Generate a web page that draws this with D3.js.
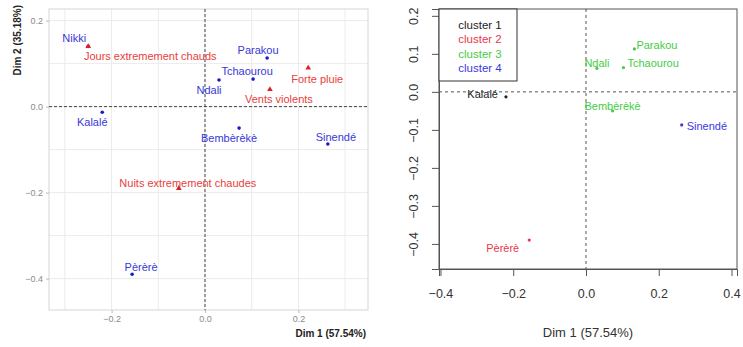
<!DOCTYPE html>
<html>
<head>
<meta charset="utf-8">
<script src="https://cdn.jsdelivr.net/npm/d3@7"></script>
<style>
  body { margin: 0; background: #fff; }
  svg { font-family: "Liberation Sans", Arial, sans-serif; }
</style>
</head>
<body>
<div id="chart"></div>
<script>
// rows (communes) on the first two CA dimensions
const rowNames = ["Nikki", "Kalalé", "Parakou", "Tchaourou", "Ndali", "Bembèrèkè", "Sinendé", "Pèrèrè"];
const rowDim1 = [-0.25, -0.22, 0.133, 0.103, 0.030, 0.073, 0.263, -0.156];
const rowDim2 = [0.14, -0.013, 0.113, 0.064, 0.062, -0.050, -0.087, -0.390];
const rowCluster = [1, 1, 3, 3, 3, 3, 4, 2];

// columns (climate events)
const colNames = ["Jours extremement chauds", "Forte pluie", "Vents violents", "Nuits extremement chaudes"];
const colDim1 = [-0.25, 0.221, 0.139, -0.056];
const colDim2 = [0.14, 0.090, 0.040, -0.19];

const clusterNames = ["cluster 1", "cluster 2", "cluster 3", "cluster 4"];
const leftXTicks = [-0.2, 0.0, 0.2];
const leftYTicks = [-0.4, -0.2, 0.0, 0.2];
const rightXTicks = [-0.4, -0.2, 0.0, 0.2, 0.4];
const rightYTicks = [-0.4, -0.3, -0.2, -0.1, 0.0, 0.1, 0.2];
const dim1Title = "Dim 1 (57.54%)";
const dim2Title = "Dim 2 (35.18%)";

const W = 743, H = 347;
const fmt = d3.format(".1f");
const clusterColor = ["#222222", "#e8384a", "#45cc45", "#3a3ae0"];

const svg = d3.select("#chart").append("svg")
    .attr("width", W).attr("height", H);

// ---------- left panel: CA biplot ----------
const xL = d3.scaleLinear().domain([-0.334, 0.349]).range([49, 368]);
const yL = d3.scaleLinear().domain([-0.473, 0.227]).range([310, 9]);
const left = svg.append("g");

// grid every 0.1
left.selectAll(".gx").data(d3.range(-3, 4).map(i => i / 10)).join("line")
    .attr("x1", d => xL(d)).attr("x2", d => xL(d))
    .attr("y1", yL.range()[1]).attr("y2", yL.range()[0])
    .attr("stroke", "#ebebeb");
left.selectAll(".gy").data(d3.range(-4, 3).map(i => i / 10)).join("line")
    .attr("y1", d => yL(d)).attr("y2", d => yL(d))
    .attr("x1", xL.range()[0]).attr("x2", xL.range()[1])
    .attr("stroke", "#ebebeb");

left.append("rect")
    .attr("x", 49).attr("y", 9).attr("width", 319).attr("height", 301)
    .attr("fill", "none").attr("stroke", "#d6d6d6");

left.append("g").attr("transform", "translate(0,310)")
    .call(d3.axisBottom(xL).tickValues(leftXTicks).tickFormat(fmt).tickSize(3).tickPadding(3))
    .call(g => g.select(".domain").remove())
    .call(g => g.selectAll("line").attr("stroke", "#bbb"))
    .call(g => g.selectAll("text").attr("fill", "#8a8a8a").style("font-size", "9px"));
left.append("g").attr("transform", "translate(49,0)")
    .call(d3.axisLeft(yL).tickValues(leftYTicks).tickFormat(fmt).tickSize(3).tickPadding(3))
    .call(g => g.select(".domain").remove())
    .call(g => g.selectAll("line").attr("stroke", "#bbb"))
    .call(g => g.selectAll("text").attr("fill", "#8a8a8a").style("font-size", "9px"));

left.append("line")
    .attr("x1", xL(0)).attr("x2", xL(0)).attr("y1", 9).attr("y2", 310)
    .attr("stroke", "#444").attr("stroke-dasharray", "3,2");
left.append("line")
    .attr("y1", yL(0)).attr("y2", yL(0)).attr("x1", 49).attr("x2", 368)
    .attr("stroke", "#444").attr("stroke-dasharray", "3,2");

// label offsets (dx, dy) from each marker
const leftRowLabel = {
    "Nikki": [-14, -8], "Kalalé": [-10, 10], "Parakou": [-9, -8], "Tchaourou": [-6, -8],
    "Ndali": [-10, 10], "Bembèrèkè": [-10, 10], "Sinendé": [8, -7], "Pèrèrè": [9, -7]
};
const leftColLabel = {
    "Jours extremement chauds": [62, 10], "Forte pluie": [9, 11],
    "Vents violents": [9, 10], "Nuits extremement chaudes": [9, -5]
};

const rows = rowNames.map((n, i) => ({name: n, x: rowDim1[i], y: rowDim2[i], c: rowCluster[i]}));
const cols = colNames.map((n, i) => ({name: n, x: colDim1[i], y: colDim2[i]}));

left.selectAll(".rowpt").data(rows).join("circle")
    .attr("cx", d => xL(d.x)).attr("cy", d => yL(d.y)).attr("r", 1.8)
    .attr("fill", "#1a1acc");
left.selectAll(".colpt").data(cols).join("path")
    .attr("transform", d => `translate(${xL(d.x)},${yL(d.y)})`)
    .attr("d", d3.symbol(d3.symbolTriangle).size(14))
    .attr("fill", "#e02020");
left.selectAll(".rowlab").data(rows).join("text")
    .attr("x", d => xL(d.x) + leftRowLabel[d.name][0])
    .attr("y", d => yL(d.y) + leftRowLabel[d.name][1])
    .attr("text-anchor", "middle").attr("dominant-baseline", "central")
    .attr("fill", "#3838d8").style("font-size", "11px")
    .text(d => d.name);
left.selectAll(".collab").data(cols).join("text")
    .attr("x", d => xL(d.x) + leftColLabel[d.name][0])
    .attr("y", d => yL(d.y) + leftColLabel[d.name][1])
    .attr("text-anchor", "middle").attr("dominant-baseline", "central")
    .attr("fill", "#e8403c").style("font-size", "11px")
    .text(d => d.name);

left.append("text")
    .attr("x", 366).attr("y", 337).attr("text-anchor", "end")
    .style("font-size", "10px").style("font-weight", "bold").attr("fill", "#222")
    .text(dim1Title);
left.append("text")
    .attr("transform", "translate(21,5) rotate(-90)").attr("text-anchor", "end")
    .style("font-size", "10px").style("font-weight", "bold").attr("fill", "#222")
    .text(dim2Title);

// ---------- right panel: clusters ----------
const xR = d3.scaleLinear().domain([-0.404, 0.415]).range([439, 737]);
const yR = d3.scaleLinear().domain([-0.466, 0.218]).range([269, 9]);
const right = svg.append("g");

right.append("g").attr("transform", "translate(0,269)")
    .call(d3.axisBottom(xR).tickValues(rightXTicks).tickFormat(fmt).tickSize(7).tickPadding(13))
    .call(g => g.select(".domain").attr("stroke", "#555"))
    .call(g => g.selectAll("line").attr("stroke", "#555"))
    .call(g => g.selectAll("text").attr("fill", "#333").style("font-size", "12.5px"));
right.append("g").attr("transform", "translate(439,0)")
    .call(d3.axisLeft(yR).tickValues(rightYTicks).tickFormat(fmt).tickSize(7))
    .call(g => g.select(".domain").attr("stroke", "#555"))
    .call(g => g.selectAll("line").attr("stroke", "#555"))
    .call(g => g.selectAll("text")
        .attr("x", 0).attr("y", -21).attr("dy", null)
        .attr("transform", "rotate(-90)").attr("text-anchor", "middle")
        .attr("fill", "#333").style("font-size", "12.5px"));

right.append("rect")
    .attr("x", 439).attr("y", 9).attr("width", 298).attr("height", 260)
    .attr("fill", "none").attr("stroke", "#555");

right.append("line")
    .attr("x1", xR(0)).attr("x2", xR(0)).attr("y1", 9).attr("y2", 269)
    .attr("stroke", "#555").attr("stroke-dasharray", "3,3");
right.append("line")
    .attr("y1", yR(0)).attr("y2", yR(0)).attr("x1", 439).attr("x2", 737)
    .attr("stroke", "#555").attr("stroke-dasharray", "3,3");

// legend box area; points falling inside it are hidden by it
const legBox = {x: 439, y: 9, w: 78, h: 72};
const underLegend = d => xR(d.x) < legBox.x + legBox.w && yR(d.y) < legBox.y + legBox.h;

// [anchor, dx, dy]
const rightLabel = {
    "Kalalé": ["end", -8, -3], "Pèrèrè": ["end", -10, 8],
    "Parakou": ["start", 2, -4], "Tchaourou": ["start", 4, -5], "Ndali": ["middle", 0, -5],
    "Bembèrèkè": ["middle", 0, -5], "Sinendé": ["start", 5, 1]
};
const shown = rows.filter(d => !underLegend(d));

right.selectAll(".pt").data(shown).join("circle")
    .attr("cx", d => xR(d.x)).attr("cy", d => yR(d.y)).attr("r", 1.6)
    .attr("fill", d => clusterColor[d.c - 1]);
right.selectAll(".lab").data(shown).join("text")
    .attr("x", d => xR(d.x) + rightLabel[d.name][1])
    .attr("y", d => yR(d.y) + rightLabel[d.name][2])
    .attr("text-anchor", d => rightLabel[d.name][0]).attr("dominant-baseline", "central")
    .attr("fill", d => clusterColor[d.c - 1]).style("font-size", "11px")
    .text(d => d.name);

const leg = right.append("g");
leg.append("rect")
    .attr("x", legBox.x).attr("y", legBox.y).attr("width", legBox.w).attr("height", legBox.h)
    .attr("fill", "#fff").attr("stroke", "#333");
leg.selectAll("text").data(clusterNames).join("text")
    .attr("x", 480).attr("y", (d, i) => 25 + i * 14.3)
    .attr("text-anchor", "middle").attr("dominant-baseline", "central")
    .attr("fill", (d, i) => clusterColor[i]).style("font-size", "11.5px")
    .text(d => d);

right.append("text")
    .attr("x", 588).attr("y", 337).attr("text-anchor", "middle")
    .attr("fill", "#333").style("font-size", "13px")
    .text(dim1Title);
</script>
</body>
</html>
